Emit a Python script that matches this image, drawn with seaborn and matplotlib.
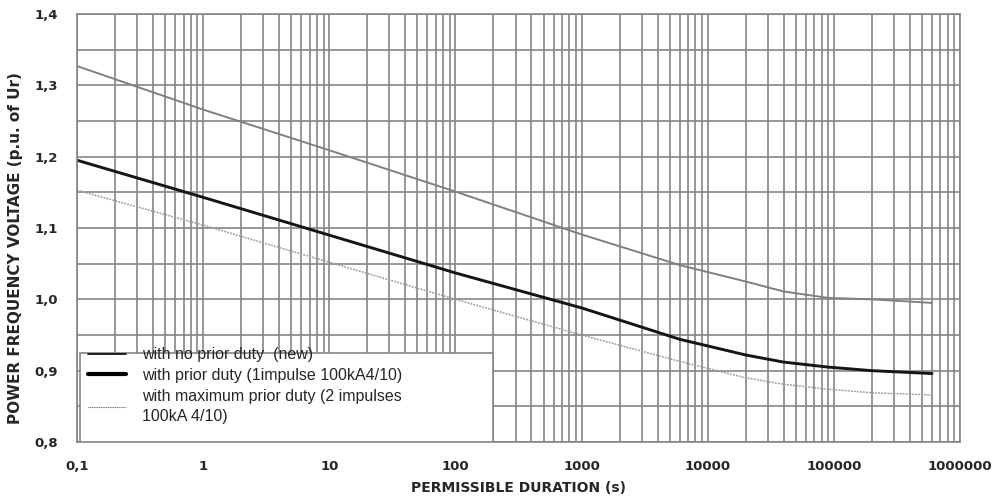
import numpy as np
import pandas as pd
import matplotlib
matplotlib.use('Agg')
import matplotlib.pyplot as plt
from matplotlib.lines import Line2D
from matplotlib.patches import Rectangle
from matplotlib.ticker import FixedLocator, LogLocator, NullFormatter
import seaborn as sns

# durations (s)
duration = [0.1, 1, 10, 100, 1000, 6000, 20000, 40000, 90000, 200000, 600000]

# power frequency voltage (p.u. of Ur) per curve
no_prior = [1.327, 1.266, 1.209, 1.151, 1.091, 1.048, 1.025, 1.011, 1.002, 1.000, 0.995]
prior_one = [1.195, 1.143, 1.090, 1.037, 0.988, 0.944, 0.922, 0.912, 0.905, 0.900, 0.896]
prior_max = [1.153, 1.104, 1.052, 1.000, 0.950, 0.913, 0.890, 0.881, 0.874, 0.869, 0.866]

labels = ['with no prior duty  (new)',
          'with prior duty (1impulse 100kA4/10)',
          'with maximum prior duty (2 impulses\n100kA 4/10)']

xticks = [0.1, 1, 10, 100, 1000, 10000, 100000, 1000000]
xtick_labels = ['0,1', '1', '10', '100', '1000', '10000', '100000', '1000000']
yticks = [0.8, 0.9, 1.0, 1.1, 1.2, 1.3, 1.4]
ytick_labels = ['0,8', '0,9', '1,0', '1,1', '1,2', '1,3', '1,4']

n = len(duration)
df = pd.DataFrame({'duration': duration * 3,
                   'voltage': no_prior + prior_one + prior_max,
                   'curve': [labels[0]] * n + [labels[1]] * n + [labels[2]] * n})

sns.set_style('white')
plt.rcParams['font.family'] = ['DejaVu Sans']

fig = plt.figure(figsize=(9.95, 5), dpi=100)
ax = fig.add_axes([0.0774, 0.116, 0.8874, 0.856])

styles = {labels[0]: dict(color='#808080', lw=1.4, ls='-'),
          labels[1]: dict(color='#151515', lw=2.1, ls='-'),
          labels[2]: dict(color='#9a9a9a', lw=1.1, ls=(0, (1.2, 0.8)))}
for name in labels:
    sub = df[df['curve'] == name]
    st = styles[name]
    sns.lineplot(data=sub, x='duration', y='voltage', ax=ax, color=st['color'],
                 linewidth=st['lw'], linestyle=st['ls'], legend=False)

ax.set_xscale('log')
ax.set_xlim(0.1, 1000000)
ax.set_ylim(0.8, 1.4)

ax.xaxis.set_major_locator(FixedLocator(xticks))
ax.xaxis.set_minor_locator(LogLocator(base=10, subs=np.arange(2, 10)))
ax.xaxis.set_minor_formatter(NullFormatter())
ax.set_xticks(xticks)
ax.set_xticklabels(xtick_labels, fontsize=9.5, fontweight='bold')
ax.set_yticks(yticks)
ax.set_yticks(np.arange(0.85, 1.4, 0.1), minor=True)
ax.set_yticklabels(ytick_labels, fontsize=9.5, fontweight='bold')

grid_col = '#858585'
ax.grid(True, which='both', color=grid_col, linewidth=1.2)
ax.set_axisbelow(True)
ax.tick_params(axis='both', which='major', length=3.5, width=1.2, color=grid_col)
ax.tick_params(axis='both', which='minor', length=0)
ax.tick_params(axis='x', pad=9.5)
ax.tick_params(axis='y', pad=10.5)
for s in ax.spines.values():
    s.set_color(grid_col)
    s.set_linewidth(1.2)

ax.set_xlabel('PERMISSIBLE DURATION (s)', fontsize=10, fontweight='bold', va='top')
ax.xaxis.set_label_coords(0.5, -0.091)
ax.set_ylabel('POWER FREQUENCY VOLTAGE (p.u. of Ur)', fontsize=11, fontweight='bold')
ax.yaxis.set_label_coords(-0.061, 0.453)

# white legend box covering the grid in the lower left corner
ax.add_patch(Rectangle((0.0034, 0.0), 0.4676, 0.208, transform=ax.transAxes,
                       facecolor='white', edgecolor=grid_col, linewidth=1.2, zorder=3))

handles = [Line2D([], [], color='black', lw=1.2),
           Line2D([], [], color='black', lw=3.0),
           Line2D([], [], color='#777777', lw=0.8, ls=(0, (1, 0.6)))]
leg = ax.legend(handles, labels, loc='upper left', bbox_to_anchor=(0.0125, 0.221),
                prop={'family': 'Liberation Sans', 'size': 11.5},
                frameon=False, borderpad=0, labelspacing=0.35, handlelength=2.4,
                handletextpad=1.0, borderaxespad=0)
leg.set_zorder(5)
for t in leg.get_texts():
    t.set_linespacing(1.45)

fig.savefig('out.png', dpi=100)
